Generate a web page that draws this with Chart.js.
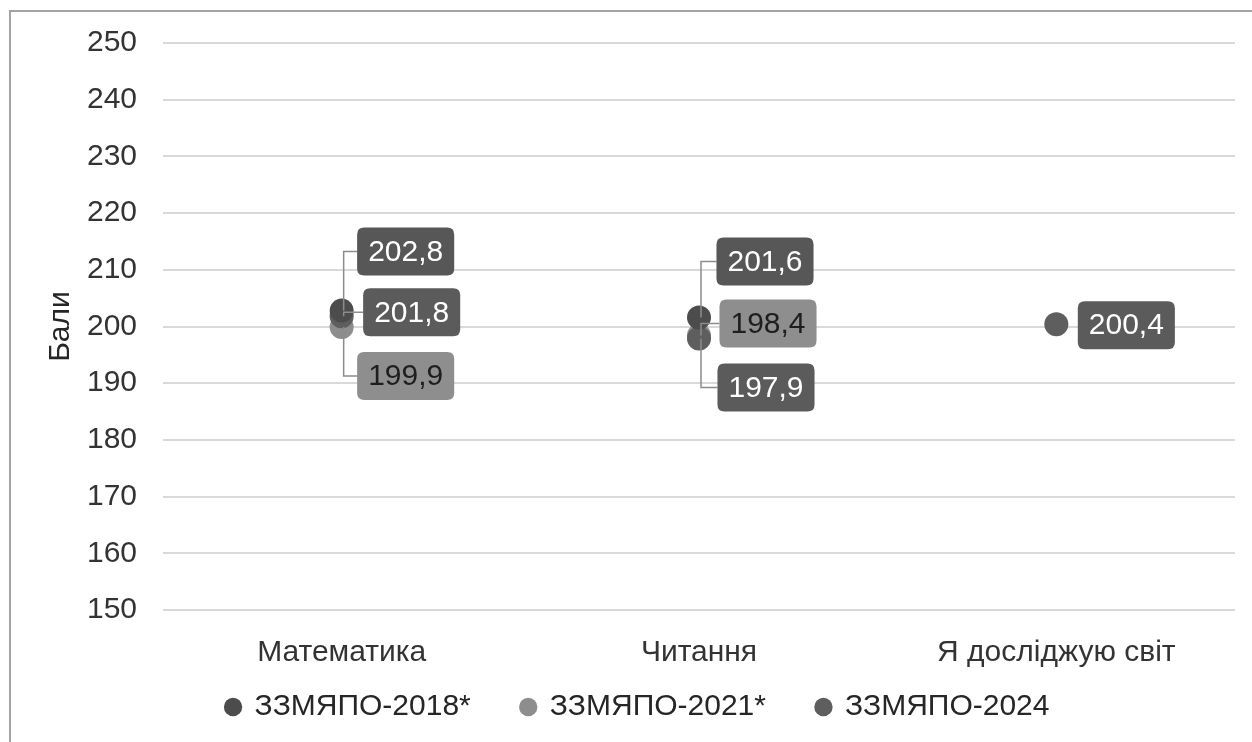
<!DOCTYPE html>
<html>
<head>
<meta charset="utf-8">
<script src="https://cdn.jsdelivr.net/npm/chart.js@4.4.1/dist/chart.umd.min.js"></script>
<style>
  html, body { margin: 0; padding: 0; background: #fff; overflow: hidden; }
  #frame { position: absolute; left: 9px; top: 10px; border-left: 2px solid #a3a3a3; border-top: 2px solid #a3a3a3; }
</style>
</head>
<body>
<div id="frame"><canvas id="chart" width="1250" height="759"></canvas></div>
<script>
// data
const categories = ['Математика', 'Читання', 'Я досліджую світ'];
const seriesNames = ['ЗЗМЯПО-2018*', 'ЗЗМЯПО-2021*', 'ЗЗМЯПО-2024'];
const scores2018 = [202.8, 201.6, null];
const scores2021 = [199.9, 198.4, null];
const scores2024 = [201.8, 197.9, 200.4];
const yMin = 150, yMax = 250, yStep = 10;

// callout placement: [dx, dy, leader] offset of the label box centre from its point (px)
const calloutPlace = [
  [[64, -59, true], [66, -56, true], null],
  [[64, 49, true], [69, -12, true], null],
  [[70, -4, true], [67, 49, true], [70, 1, false]]
];

const FONT = '"Liberation Sans", Arial, sans-serif';
const legendLift = 35;
const legendShift = 30;

function roundRect(ctx, x, y, w, h, r) {
  ctx.beginPath();
  ctx.moveTo(x + r, y);
  ctx.lineTo(x + w - r, y);
  ctx.quadraticCurveTo(x + w, y, x + w, y + r);
  ctx.lineTo(x + w, y + h - r);
  ctx.quadraticCurveTo(x + w, y + h, x + w - r, y + h);
  ctx.lineTo(x + r, y + h);
  ctx.quadraticCurveTo(x, y + h, x, y + h - r);
  ctx.lineTo(x, y + r);
  ctx.quadraticCurveTo(x, y, x + r, y);
  ctx.closePath();
}

const callouts = {
  id: 'callouts',
  afterLayout(chart) {
    // pull the legend up closer to the category labels
    const lg = chart.legend;
    lg.top -= legendLift;
    lg.bottom -= legendLift;
    lg.left += legendShift;
  },
  afterDatasetsDraw(chart) {
    const ctx = chart.ctx;
    ctx.save();
    ctx.font = '30px ' + FONT;
    ctx.textAlign = 'center';
    ctx.textBaseline = 'middle';
    chart.data.datasets.forEach((ds, i) => {
      chart.getDatasetMeta(i).data.forEach((pt, j) => {
        const v = ds.data[j];
        const place = calloutPlace[i][j];
        if (v == null || !place) return;
        const text = v.toFixed(1).replace('.', ',');
        const w = ctx.measureText(text).width + 22, h = 48;
        const cx = pt.x + place[0], cy = pt.y + place[1];
        const bx = cx - w / 2, by = cy - h / 2;
        if (place[2]) {
          ctx.strokeStyle = '#8c8c8c';
          ctx.lineWidth = 1.5;
          ctx.beginPath();
          ctx.moveTo(pt.x + 2, pt.y);
          ctx.lineTo(pt.x + 2, cy);
          ctx.lineTo(bx, cy);
          ctx.stroke();
        }
        roundRect(ctx, bx, by, w, h, 7);
        ctx.fillStyle = ds.calloutBg;
        ctx.fill();
        ctx.fillStyle = ds.calloutText;
        ctx.fillText(text, cx, cy + 1);
      });
    });
    ctx.restore();
  }
};

const datasets = [
  { label: seriesNames[0], data: scores2018, order: 0, backgroundColor: '#4c4c4c', borderColor: '#4c4c4c', calloutBg: '#575757', calloutText: '#ffffff' },
  { label: seriesNames[1], data: scores2021, order: 2, backgroundColor: '#8d8d8d', borderColor: '#8d8d8d', calloutBg: '#8e8e8e', calloutText: '#1e1e1e' },
  { label: seriesNames[2], data: scores2024, order: 1, backgroundColor: '#5e5e5e', borderColor: '#5e5e5e', calloutBg: '#5b5b5b', calloutText: '#ffffff' }
].map(d => Object.assign(d, { showLine: false, pointRadius: 12, pointBorderWidth: 0, pointHoverRadius: 12 }));

new Chart(document.getElementById('chart'), {
  type: 'line',
  data: { labels: categories, datasets },
  plugins: [callouts],
  options: {
    responsive: false,
    animation: false,
    events: [],
    layout: { padding: { top: 31, right: 26, bottom: 4, left: 0 } },
    plugins: {
      tooltip: { enabled: false },
      legend: {
        position: 'bottom',
        labels: {
          usePointStyle: true,
          pointStyle: 'circle',
          boxWidth: 13,
          boxHeight: 13,
          padding: 51,
          color: '#262626',
          font: { family: FONT, size: 30 },
          sort: (a, b) => a.datasetIndex - b.datasetIndex
        }
      }
    },
    scales: {
      x: {
        offset: true,
        grid: { display: false },
        border: { display: false },
        ticks: { color: '#333333', padding: 17, font: { family: FONT, size: 30 } },
        afterFit(scale) { scale.height = 66; }
      },
      y: {
        min: yMin,
        max: yMax,
        grid: { color: '#d9d9d9', lineWidth: 2, drawTicks: false },
        border: { display: false },
        ticks: { stepSize: yStep, color: '#333333', padding: 26, font: { family: FONT, size: 30 } },
        title: { display: true, text: 'Бали', color: '#262626', padding: { top: 32, bottom: 0 }, font: { family: FONT, size: 30 } },
        afterFit(scale) { scale.width = 152; scale.paddingTop = 0; }
      }
    }
  }
});
</script>
</body>
</html>
